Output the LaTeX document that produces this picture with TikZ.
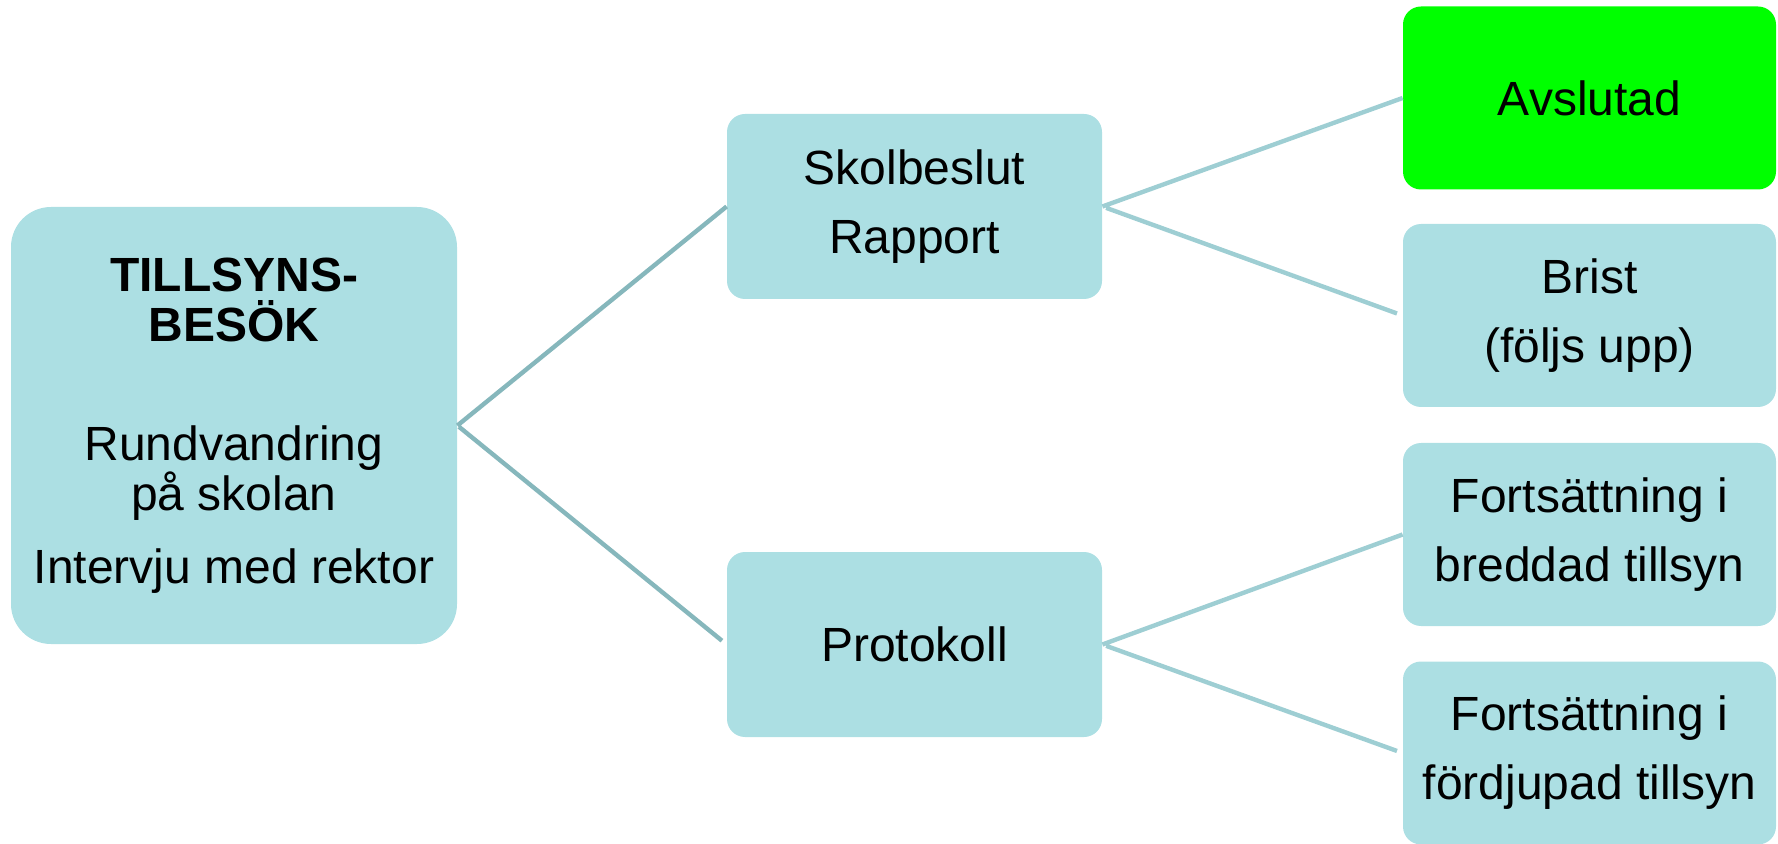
\documentclass[tikz,border=0pt]{standalone}
\usepackage{fontspec}
\setmainfont{Liberation Sans}
\usepackage{tikz}

\definecolor{boxblue}{RGB}{172,223,227}
\definecolor{okgreen}{RGB}{0,255,0}
\definecolor{linkdark}{RGB}{134,183,188}
\definecolor{linklight}{RGB}{158,206,211}

\begin{document}
\begin{tikzpicture}[x=0.5pt, y=-0.5pt,
        box/.style={fill=boxblue, rounded corners=9pt, align=center, inner sep=0pt,
                    font=\fontsize{24}{34.5}\selectfont},
        mid/.style={box, minimum width=187.5pt, minimum height=92.5pt},
        leaf/.style={box, minimum width=186.5pt, minimum height=91.5pt},
        link/.style={line width=2.2pt, linklight, shorten <=2pt, shorten >=3pt}]
            \useasboundingbox (0,0) rectangle (1778,844);
            % visit
            \node[box, rounded corners=20pt, minimum width=223pt, minimum height=218.5pt,
                  font=\fontsize{24}{25}\selectfont] (besok) at (234,425.5)
                  {\textbf{TILLSYNS-}\\\textbf{BESÖK}\\[34.5pt]Rundvandring\\på skolan\\[11.5pt]Intervju med rektor};
            % outcomes
            \node[mid] (skolbeslut) at (914.5,206.5) {Skolbeslut\\Rapport};
            \node[mid] (protokoll) at (914.5,644.5) {Protokoll};
            % follow-up
            \node[leaf, fill=okgreen] (avslutad) at (1589.5,98) {Avslutad};
            \node[leaf] (brist) at (1589.5,315.5) {Brist\\(följs upp)};
            \node[leaf] (breddad) at (1589.5,534.5) {Fortsättning i\\breddad tillsyn};
            \node[leaf] (fordjupad) at (1589.5,753) {Fortsättning i\\fördjupad tillsyn};
            % links
            \draw[link, linkdark, shorten <=1pt] (besok.east) -- (skolbeslut.west)
                  (besok.east) -- (protokoll.west);
            \draw[link] (skolbeslut.east) -- (avslutad.west)
                  (skolbeslut.east) -- (brist.west);
            \draw[link] (protokoll.east) -- (breddad.west)
                  (protokoll.east) -- (fordjupad.west);
        \end{tikzpicture}
\end{document}
